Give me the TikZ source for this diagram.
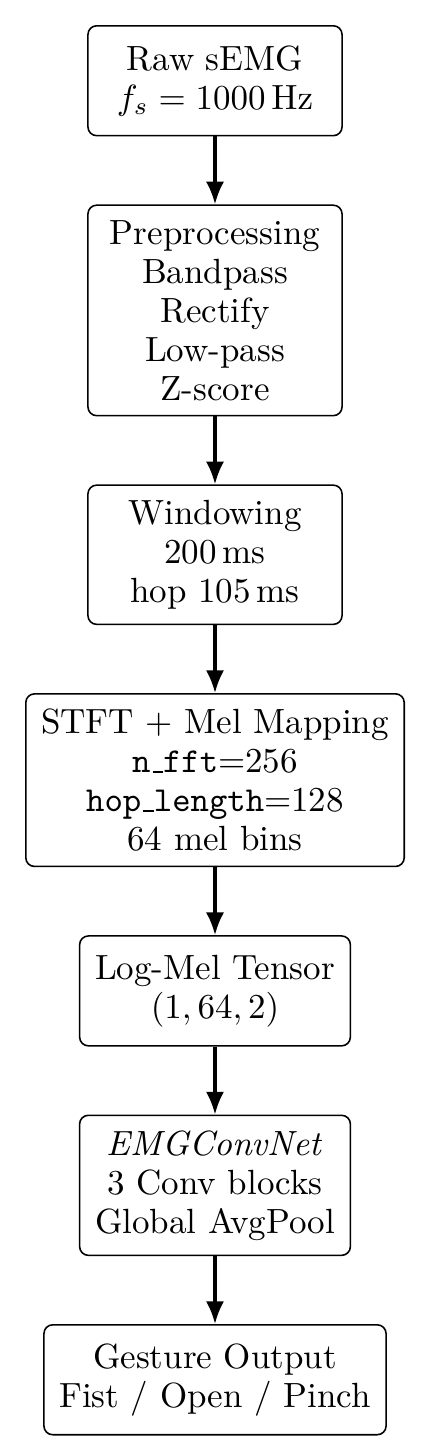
\documentclass[tikz,border=0pt]{standalone}
\usetikzlibrary{positioning,arrows.meta}
\newcommand{\ulbar}{\leavevmode\kern.06em\vbox{\hrule width.3em}}
\tikzset{
  stage/.style={draw, line width=0.45pt, rounded corners=2.5pt, align=center,
    minimum width=72.6pt, minimum height=31.4pt, inner xsep=4.4pt, inner ysep=4.3pt,
    font=\fontsize{10}{11.15}\selectfont},
  flow/.style={-{Latex[length=6.5pt,width=5.2pt]}, line width=0.9pt}
}
\begin{document}
\begin{tikzpicture}[node distance=19.4pt]
\useasboundingbox (0,0) rectangle (123.14pt,-413.14pt);
\node[stage, anchor=north] (raw) at (61.43pt,-7.14pt) {Raw sEMG\\$f_s = 1000\,\mathrm{Hz}$};
\node[stage, below=of raw] (pre) {Preprocessing\\Bandpass\\Rectify\\Low-pass\\Z-score};
\node[stage, below=of pre] (win) {Windowing\\200\,ms\\hop 105\,ms};
\node[stage, below=of win] (stft) {STFT + Mel Mapping\\\texttt{n\ulbar fft}=256\\\texttt{hop\ulbar length}=128\\64 mel bins};
\node[stage, below=of stft] (mel) {Log-Mel Tensor\\$(1,64,2)$};
\node[stage, below=of mel] (net) {\textit{EMGConvNet}\\3 Conv blocks\\Global AvgPool};
\node[stage, below=of net] (out) {Gesture Output\\Fist / Open / Pinch};
\draw[flow] (raw) -- (pre);
\draw[flow] (pre) -- (win);
\draw[flow] (win) -- (stft);
\draw[flow] (stft) -- (mel);
\draw[flow] (mel) -- (net);
\draw[flow] (net) -- (out);
\end{tikzpicture}
\end{document}
